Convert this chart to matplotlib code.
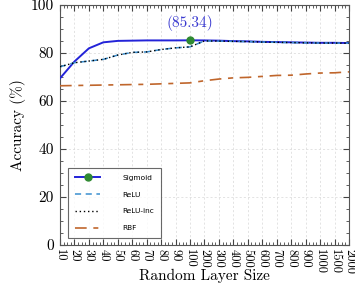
import matplotlib
matplotlib.use("Agg")
import matplotlib.pyplot as plt
from matplotlib.ticker import AutoMinorLocator, MultipleLocator

# data
sizes = ["10", "20", "30", "40", "50", "60", "70", "80", "90", "100",
         "200", "300", "400", "500", "600", "700", "800", "900", "1000", "1500", "2000"]
sigmoid = [69.5, 76.5, 82.0, 84.5, 85.1, 85.2, 85.3, 85.3, 85.3, 85.34,
           85.3, 85.2, 85.0, 84.9, 84.7, 84.6, 84.5, 84.4, 84.3, 84.3, 84.2]
relu = [74.3, 76.0, 76.7, 77.4, 79.2, 80.3, 80.5, 81.5, 82.2, 82.6,
        85.1, 85.0, 84.9, 84.8, 84.6, 84.5, 84.4, 84.3, 84.2, 84.2, 84.1]
relu_inc = [74.3, 76.0, 76.7, 77.4, 79.2, 80.3, 80.5, 81.5, 82.2, 82.6,
            85.1, 85.0, 84.9, 84.8, 84.6, 84.5, 84.4, 84.3, 84.2, 84.2, 84.1]
rbf = [66.4, 66.5, 66.6, 66.7, 66.8, 66.9, 67.0, 67.2, 67.4, 67.6,
       68.5, 69.2, 69.7, 69.9, 70.3, 70.7, 70.8, 71.3, 71.7, 71.8, 72.2]
best_idx = 9

serif = "cmr10"

fig = plt.figure(figsize=(3.55, 2.85), dpi=100)
ax = fig.add_axes([0.169, 0.14, 0.814, 0.842])
x = list(range(len(sizes)))

ax.plot(x, sigmoid, color="#2323d8", lw=1.4, label="Sigmoid", zorder=3)
ax.plot(x, relu, color="#3a8fd0", lw=1.1, ls=(0, (4, 3)), label="ReLU", zorder=4)
ax.plot(x, relu_inc, color="black", lw=1.0, ls=(0, (1, 2)), label="ReLU-inc", zorder=5)
ax.plot(x, rbf, color="#c0662c", lw=1.2, ls=(0, (7, 4, 3, 4)), label="RBF", zorder=3)
ax.plot(x[best_idx], sigmoid[best_idx], "o", color="#2f8a32", ms=5, zorder=6)
ax.annotate("(%.2f)" % sigmoid[best_idx], (x[best_idx], sigmoid[best_idx]),
            xytext=(0, 7), textcoords="offset points", ha="center", va="bottom",
            color="#3a3ad0", fontsize=11, family=serif)

# legend handle for Sigmoid with marker
h, l = ax.get_legend_handles_labels()
h[0] = plt.Line2D([], [], color="#2323d8", lw=1.4, marker="o", mfc="#2f8a32",
                  mec="#2f8a32", ms=5)
leg = ax.legend(h, l, loc="lower left", bbox_to_anchor=(0.028, 0.03),
                prop={"family": "DejaVu Sans", "size": 5.3}, frameon=True,
                fancybox=False, edgecolor="#444444", handlelength=3.5,
                borderpad=0.9, labelspacing=1.45, handletextpad=3.0,
                borderaxespad=0)
leg.get_frame().set_linewidth(0.8)

ax.set_xlim(0, len(sizes) - 1)
ax.set_ylim(0, 100)
ax.set_xticks(x)
ax.set_xticklabels(sizes, rotation=-90, family=serif, fontsize=9)
ax.xaxis.set_minor_locator(AutoMinorLocator(4))
ax.yaxis.set_major_locator(MultipleLocator(20))
ax.yaxis.set_minor_locator(MultipleLocator(5))
for lab in ax.get_yticklabels():
    lab.set_family(serif)
    lab.set_fontsize(11)
ax.tick_params(which="both", direction="in", top=True, right=True, color="#444444")
ax.tick_params(which="major", length=4)
ax.tick_params(axis="y", which="major", pad=4.5)
ax.tick_params(axis="x", which="major", pad=2.5)
ax.tick_params(which="minor", length=2)
ax.grid(True, which="major", ls=(0, (3, 3)), lw=0.5, color="#d8d8d8")
for s in ax.spines.values():
    s.set_color("#555555")
    s.set_linewidth(0.8)

ax.set_xlabel("Random Layer Size", family=serif, fontsize=11, va="center")
ax.xaxis.set_label_coords(0.5, -0.13)
ax.set_ylabel("Accuracy (%)", family=serif, fontsize=11, labelpad=3)

fig.savefig("out.png", dpi=100)
